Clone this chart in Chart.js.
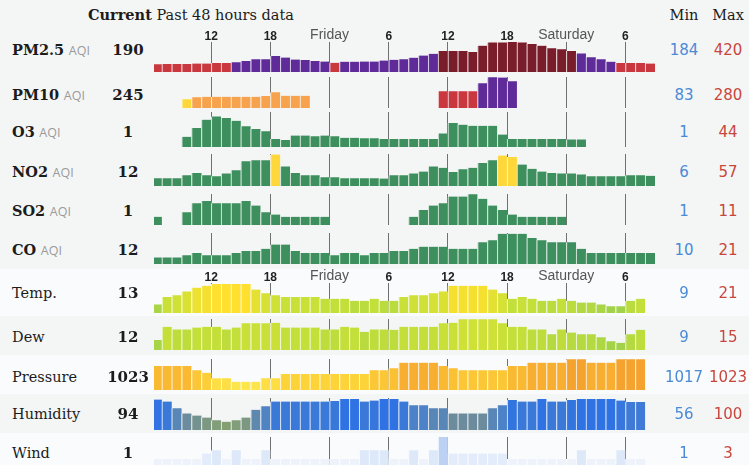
<!DOCTYPE html>
<html><head><meta charset="utf-8">
<script src="https://cdn.jsdelivr.net/npm/chart.js@4.4.1/dist/chart.umd.min.js"></script>
<style>
html,body{margin:0;padding:0;}
body{width:749px;height:465px;overflow:hidden;background:#f4f6f6;position:relative;font-family:"DejaVu Serif",serif;color:#1c1c1c;}
.band{position:absolute;left:0;width:749px;background:#f9fbfd;}
.t{position:absolute;white-space:nowrap;line-height:20px;height:20px;}
.lbl{left:12px;font-size:14.5px;}
.aqi{font-family:"Open Sans",sans-serif;font-size:12.5px;color:#9a9a9a;}
.cur{left:98px;width:60px;text-align:center;font-weight:bold;font-size:15px;}
.mn,.mx{width:56px;text-align:center;font-family:"DejaVu Sans",sans-serif;font-size:15px;}
.mn{left:656px;color:#4a8ad6;}
.mx{left:700px;color:#c9463d;}
canvas{position:absolute;left:154px;}
</style></head><body>
<div class="band" style="top:269px;height:47px"></div>
<div class="band" style="top:355px;height:39px"></div>
<div class="band" style="top:433px;height:32px"></div>
<div class="t" style="left:88px;top:5px;font-size:14.5px"><b>Current</b> Past 48 hours data</div>
<div class="t" style="left:656px;width:56px;text-align:center;top:5px;font-size:14.5px">Min</div>
<div class="t" style="left:700px;width:56px;text-align:center;top:5px;font-size:14.5px">Max</div>
<div id="rows"></div>
<script>
// ---- data (hour slots 0..50; slot 6 = 12:00 Thu, slot 18 = Friday 0:00, slot 42 = Saturday 0:00) ----
const hourTicks = [6, 12, 18, 24, 30, 36, 42, 48];
const tickLabels = ['12', '18', 'Friday', '6', '12', '18', 'Saturday', '6'];

const rowNames = ['PM2.5', 'PM10', 'O3', 'NO2', 'SO2', 'CO', 'Temp.', 'Dew', 'Pressure', 'Humidity', 'Wind'];
const rowIsAqi = [true, true, true, true, true, true, false, false, false, false, false];
const currentValues = ['190', '245', '1', '12', '1', '12', '13', '12', '1023', '94', '1'];
const minValues = ['184', '83', '1', '6', '1', '10', '9', '9', '1017', '56', '1'];
const maxValues = ['420', '280', '44', '57', '11', '21', '21', '15', '1023', '100', '3'];

const pm25 = [184,185,185,185,191,191,196,196,205,217,235,235,271,255,233,228,217,212,198,210,210,212,212,223,230,235,253,276,295,324,324,324,313,381,416,416,420,416,399,381,353,342,324,298,257,235,210,195,195,195,190];
const pm10 = [null,null,null,83,102,106,106,106,106,106,106,112,146,115,115,115,null,null,null,null,null,null,null,null,null,null,null,null,null,155,155,155,155,226,280,278,245,null,null,null,null,null,null,null,null,null,null,null,null,null,null];
const o3 = [null,null,null,7,23,38,44,41,36,26,21,17,3,1,9,9,8,9,8,5,5,4,4,3,3,3,3,3,3,13,32,29,27,27,27,11,3,3,3,3,3,3,2,2,null,null,null,null,null,null,null];
const no2 = [7,7,7,13,18,13,11,17,24,43,45,45,57,32,18,13,13,9,9,7,7,7,7,6,13,13,17,21,32,29,20,26,29,39,45,55,52,36,27,21,18,17,17,15,11,11,11,11,13,13,12];
const so2 = [1,null,null,3,7,8,7,7,7,8,6,3,2,1,1,1,1,1,null,null,null,null,null,null,null,null,1,4,6,7,10,10,11,9,6,4,2,1,1,1,1,1,null,null,null,null,null,null,null,null,null];
const co = [10,10,10,11,12,11,11,11,12,13,13,14,16,16,13,12,12,12,11,12,12,11,12,12,13,13,14,15,15,15,14,14,14,17,18,21,21,21,19,18,17,17,17,14,12,12,12,12,12,12,12];
const temp = [10,14,15,17,19,20,21,21,21,21,18,16,15,14,14,14,14,13,13,13,12,12,13,12,12,14,15,15,16,17,20,20,20,20,18,16,13,14,13,12,12,13,12,11,11,10,9,9,12,13,null];
const dew = [9.7,13.1,12.4,12.4,12.9,13.1,13.1,12.4,12.9,14,14,14,14.1,12.9,12.9,12.9,12.9,12.4,12.4,13.1,12.9,11.8,12.4,12.4,12.3,13.1,13.1,13.1,13.1,14,14.1,15,15,15,15,14,13.1,13.1,12.4,12.4,11.2,12.4,11.6,11.2,11.2,10.4,9.4,9,11.2,12.3,null];
const pressure = [1021.2,1021.2,1021.2,1021.2,1020.1,1019.4,1017.9,1017.9,1017,1017,1017,1017.9,1017.9,1019.1,1019.1,1019.1,1019.1,1019.1,1019.1,1019.1,1019.1,1019.1,1020.1,1020.1,1020.6,1022.1,1022.1,1022.1,1022.1,1021.2,1020.6,1020.1,1020.1,1020.1,1020.1,1020.1,1021.2,1021.2,1022.1,1022.1,1022.1,1022.1,1023,1023,1022.1,1022.1,1022.1,1023,1023,1023,null];
const humidity = [99,95,82,72,68,64,59,56,59,64,79,86,95,95,95,95,95,95,96,100,100,95,97,100,100,95,88,88,82,82,72,72,72,72,82,88,98,95,95,100,95,95,98,100,100,100,100,97,94,94,null];
const wind = [1,1,1,1,1,1.5,1.8,1,1.8,1,1,1.8,1,1,1,1,1,1,1,1,1,1.8,1.8,1.8,1,1,1.8,1,1.8,3,1.5,1.5,1.5,1.5,1.5,1.5,1,1,1,1,1,1,1,1.8,1,1,1,1.8,1,1,null];

// ---- colours ----
function hexRgb(h) { return [1, 3, 5].map(i => parseInt(h.slice(i, i + 2), 16)); }
const AQI_STEPS = [[50, '#3e8f5e'], [100, '#fed83a'], [150, '#f7a24c'], [200, '#c9373f'], [300, '#5f2b99'], [Infinity, '#7a1d2a']];
function aqiRgb(v) {
  for (const [lim, c] of AQI_STEPS) if (v <= lim) return hexRgb(c);
}
function ramp(stops) {
  return v => {
    if (v <= stops[0][0]) return hexRgb(stops[0][1]);
    for (let i = 1; i < stops.length; i++) {
      if (v <= stops[i][0]) {
        const t = (v - stops[i - 1][0]) / (stops[i][0] - stops[i - 1][0]);
        const a = hexRgb(stops[i - 1][1]), b = hexRgb(stops[i][1]);
        return a.map((c, k) => Math.round(c + (b[k] - c) * t));
      }
    }
    return hexRgb(stops[stops.length - 1][1]);
  };
}
const tempRgb = ramp([[9, '#a2d24a'], [13, '#c3df3a'], [17, '#dbe133'], [21, '#ffe02e']]);
const presRgb = ramp([[1017, '#fde64c'], [1019, '#fdd43a'], [1021, '#f9bc33'], [1023, '#f5a32f']]);
const humRgb = ramp([[56, '#84a073'], [64, '#7c9882'], [72, '#6c8b9c'], [82, '#5886b6'], [90, '#4880cc'], [100, '#2e72e4']]);
const windRgb = ramp([[1, '#edf2fb'], [2, '#d9e5f8'], [3, '#bcd1f3']]);
const css = c => 'rgb(' + c.join(',') + ')';
const tint = (c, f) => css(c.map(x => Math.round(x + (255 - x) * f)));

// ---- rows: [data, colour, axis lo, axis hi, area top, baseline, text centre y, tick labels] ----
const rows = [
  [pm25, aqiRgb, 100, 420, 42, 72, 50, true],
  [pm10, aqiRgb, 5, 283, 77, 108, 95, false],
  [o3, aqiRgb, -11.75, 52, 112, 147, 132, false],
  [no2, aqiRgb, -9.7, 58.3, 154, 186, 172, false],
  [so2, aqiRgb, -2.7, 11.14, 194, 225, 211, false],
  [co, aqiRgb, 6.94, 21.33, 233, 264, 250, false],
  [temp, tempRgb, 5.39, 21.53, 283, 313, 293, true],
  [dew, tempRgb, 7.13, 15.08, 319, 350, 337, false],
  [pressure, presRgb, 1014.78, 1023.09, 359, 390, 377, false],
  [humidity, humRgb, 39.9, 101.9, 398, 430, 414, false],
  [wind, windRgb, 0, 3, 437, 470, 453, false]
];

const holder = document.getElementById('rows');
function addText(cls, style, html) {
  const d = document.createElement('div');
  d.className = 't ' + cls;
  d.setAttribute('style', style);
  d.innerHTML = html;
  holder.appendChild(d);
}
const isNum = s => /^\d+$/.test(s || '');

rows.forEach((r, idx) => {
  const [data, colorFn, lo, hi, top, base, cy, withLabels] = r;
  const tt = 'top:' + (cy - 10) + 'px';
  const name = rowIsAqi[idx] ? '<b>' + rowNames[idx] + '</b> <span class="aqi">AQI</span>' : rowNames[idx];
  addText('lbl', tt, name);
  addText('cur', tt, currentValues[idx]);
  addText('mn', tt, minValues[idx]);
  addText('mx', tt, maxValues[idx]);

  const axisH = withLabels ? 20 : 0;
  const cv = document.createElement('canvas');
  const h = base - top + axisH;
  cv.width = 501; cv.height = h;
  cv.style.width = '501px'; cv.style.height = h + 'px';
  cv.style.top = (top - axisH) + 'px';
  holder.appendChild(cv);

  const val = ctx => (ctx.raw ? ctx.raw.y : null);
  new Chart(cv, {
    type: 'bar',
    data: {
      datasets: [{
        data: data.map((v, i) => ({ x: i + 0.5, y: v })),
        backgroundColor: ctx => val(ctx) == null ? 'rgba(0,0,0,0)' : css(colorFn(val(ctx))),
        borderColor: ctx => val(ctx) == null ? 'rgba(0,0,0,0)' : tint(colorFn(val(ctx)), 0.75),
        borderWidth: { left: 1.2, right: 0, top: 0, bottom: 0 },
        borderSkipped: false,
        base: lo,
        barPercentage: 1,
        categoryPercentage: 1
      }]
    },
    options: {
      responsive: false,
      animation: false,
      devicePixelRatio: 1,
      layout: { padding: 0 },
      events: [],
      plugins: { legend: { display: false }, tooltip: { enabled: false } },
      scales: {
        x: {
          type: 'linear',
          position: withLabels ? 'top' : 'bottom',
          offset: false,
          min: 0.2, max: 51,
          afterBuildTicks: s => { s.ticks = hourTicks.map(v => ({ value: v })); },
          afterFit: s => { s.height = axisH; },
          ticks: {
            display: withLabels,
            padding: -2,
            autoSkip: false,
            maxRotation: 0,
            callback: v => tickLabels[hourTicks.indexOf(v)],
            font: ctx => isNum(tickLabels[ctx.index])
              ? { family: '"Liberation Sans", Arial, sans-serif', size: 12, weight: 'bold' }
              : { family: '"Liberation Sans", Arial, sans-serif', size: 14, weight: 'normal' },
            color: ctx => isNum(tickLabels[ctx.index]) ? '#222' : '#555'
          },
          grid: { color: '#707070', lineWidth: 1, drawTicks: false, offset: false },
          border: { display: false }
        },
        y: { display: false, min: lo, max: hi }
      }
    }
  });
});
</script>
</body></html>
